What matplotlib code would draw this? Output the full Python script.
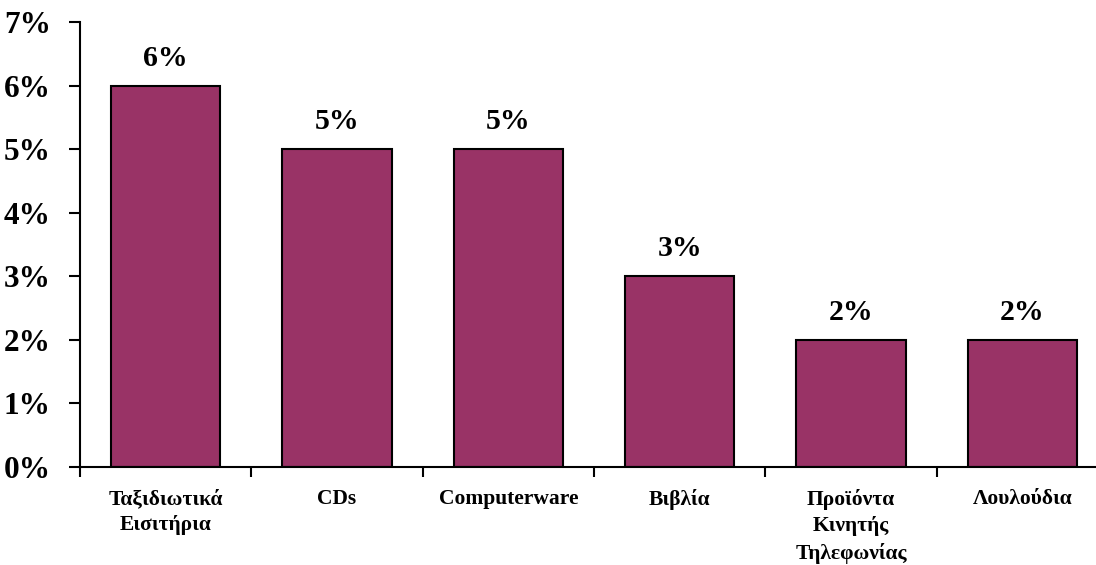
import numpy as np
import matplotlib.pyplot as plt
from matplotlib.ticker import FixedLocator

categories = ["Ταξιδιωτικά\nΕισιτήρια", "CDs", "Computerware", "Βιβλία",
              "Προϊόντα\nΚινητής\nΤηλεφωνίας", "Λουλούδια"]
values = [6, 5, 5, 3, 2, 2]          # ποσοστό %
yticks = [0, 1, 2, 3, 4, 5, 6, 7]

plt.rcParams['font.family'] = ['Liberation Serif', 'DejaVu Serif']
plt.rcParams['font.weight'] = 'bold'

fig = plt.figure(figsize=(10.96, 5.65), dpi=100)
ax = fig.add_axes([80/1096, 1-467/565, 1028/1096, 445/565])

x = np.arange(len(categories))
bars = ax.bar(x, values, width=0.64, color='#993366', edgecolor='black', linewidth=1.5)

for xi, v in zip(x, values):
    ax.annotate(f"{v}%", (xi, v), xytext=(0, 10), textcoords='offset points',
                ha='center', va='bottom', fontsize=21.5, fontweight='bold')

ax.set_xlim(-0.5, len(categories) - 0.5)
ax.set_ylim(0, 7)
ax.set_yticks(yticks)
ax.set_yticklabels([f"{t}%" for t in yticks], fontsize=22.5, fontweight='bold')
ax.set_xticks(x)
ax.set_xticklabels(categories, fontsize=15.5, fontweight='bold', linespacing=1.4, va='top')
ax.xaxis.set_minor_locator(FixedLocator(np.arange(-0.5, len(categories), 1)))
ax.tick_params(axis='x', which='major', length=0, pad=16)
ax.tick_params(axis='x', which='minor', length=7, width=1.5, direction='out')
ax.tick_params(axis='y', length=8, width=1.5, pad=13)

ax.spines['top'].set_visible(False)
ax.spines['right'].set_visible(False)
ax.spines['left'].set_linewidth(1.5)
ax.spines['bottom'].set_linewidth(1.5)

fig.savefig("out.png", dpi=100)
